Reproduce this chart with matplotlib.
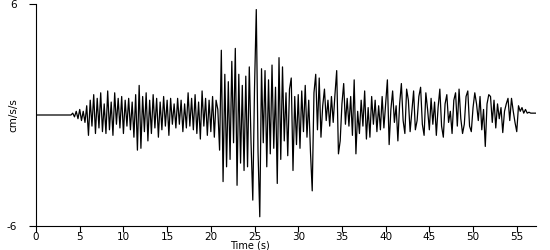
import numpy as np
import matplotlib
matplotlib.use("Agg")
import matplotlib.pyplot as plt

plt.rcParams['font.family'] = ['Liberation Sans Narrow', 'DejaVu Sans']
plt.rcParams['axes.unicode_minus'] = False

# sample interval of the record (s)
dt = 0.2

# acceleration (cm/s/s), one row = 2 s of record
accel = [
    0, 0, 0, 0, 0, 0, 0, 0, 0, 0,
    0, 0, 0, 0, 0, 0, 0, 0, 0, 0,
    0.0, 0.1, -0.1, 0.2, -0.2, 0.3, -0.3, 0.2, -0.4, 0.5,
    -1.1, 0.8, -0.6, 1.1, -1.0, 0.9, -0.7, 1.2, -0.9, 0.6,
    -1.0, 1.3, -0.8, 0.7, -1.1, 1.2, -0.5, 0.9, -0.7, 1.0,
    -1.0, 0.8, -0.6, 0.9, -0.8, 0.7, -1.2, 1.1, -1.9, 1.6,
    -1.8, 1.0, -0.9, 1.2, -1.4, 0.8, -1.0, 1.1, -0.7, 0.9,
    -1.2, 0.7, -0.8, 1.0, -0.6, 0.8, -1.1, 0.9, -0.5, 0.6,
    -0.7, 0.9, -0.5, 0.8, -0.9, 0.6, -0.7, 1.2, -0.6, 0.9,
    -0.8, 1.1, -1.0, 0.7, -1.3, 1.3, -0.6, 0.9, -1.1, 0.8,
    -0.9, 1.0, -1.2, 0.8, 0.3, -1.9, 3.5, -3.6, 2.2, -2.8,
    1.8, -2.4, 2.9, -1.5, 3.6, -3.8, 2.2, -2.6, 1.6, -3.0,
    2.1, -2.8, 2.6, -1.5, -4.6, 1.5, 5.7, -2.0, -5.5, 2.5,
    -1.5, 2.4, -2.8, 1.9, -2.1, 2.7, -1.8, 1.5, -3.7, 3.1,
    -2.4, 2.6, -1.4, 1.2, -2.2, 1.4, 2.0, -3.0, 1.0, -1.6,
    1.1, -1.8, 1.3, -0.9, 1.6, -1.2, 0.8, -2.0, -4.1, 1.2,
    2.2, -0.8, 2.0, -1.2, 0.5, 1.4, -0.3, 0.8, -0.6, 1.0,
    -0.4, 1.1, 2.4, -2.1, -1.4, 0.6, 1.7, -0.5, 0.9, -0.6,
    1.0, -1.1, 1.9, -2.1, 0.2, -1.0, 0.8, -0.6, 1.3, -1.3,
    0.4, -1.2, 1.0, -0.5, 0.8, -0.9, 0.5, -0.8, 1.0, -0.7,
    0.6, 1.9, -1.6, 0.3, 1.3, -0.4, 0.5, -1.4, 0.6, 1.7,
    -0.3, -1.0, 1.4, 0.8, -0.9, 0.2, 1.3, -0.8, -0.3, 1.0,
    1.5, -0.5, -1.1, 1.2, 0.3, -0.8, 0.9, -0.5, 0.7, -1.1,
    0.4, 1.4, -0.6, -1.2, 0.6, 1.1, -0.4, 0.2, -1.0, 0.8,
    1.2, -0.6, 1.4, -0.2, -1.0, -0.5, 1.0, 1.3, -0.6, -0.9,
    0.4, 1.2, 0.6, -0.3, 1.0, -0.8, 0.3, -1.7, 0.6, 1.1,
    1.0, -0.4, 0.8, -0.7, 0.6, -0.2, 0.4, -0.95, 0.2, 0.6,
    0.9, -0.3, 0.9, 0.2, -0.4, -0.9, 0.5, 0.2, 0.4, 0.1,
    0.3, 0.1, 0.15, 0.1, 0.1, 0.1, 0.1,
]
x_ticks = [0, 5, 10, 15, 20, 25, 30, 35, 40, 45, 50, 55]
y_ticks = [-6, 6]

t = np.arange(len(accel)) * dt

fig = plt.figure(figsize=(5.5, 2.5), dpi=100)
ax = fig.add_axes([0.0655, 0.096, 0.909, 0.888])
ax.plot(t, accel, color='black', lw=0.9)

ax.set_xlim(0, 57.2)
ax.set_ylim(-6, 6)
ax.set_xticks(x_ticks)
ax.set_yticks(y_ticks)
ax.spines['top'].set_visible(False)
ax.spines['right'].set_visible(False)
ax.tick_params(axis='x', length=4, width=0.8, pad=0, labelsize=7.5)
ax.tick_params(axis='y', length=5, width=0.8, pad=9, labelsize=7.5)

ax.set_xlabel('Time (s)', fontsize=7)
ax.xaxis.set_label_coords(0.428, -0.064)
ax.set_ylabel('cm/s/s', fontsize=7.5)
ax.yaxis.set_label_coords(-0.035, 0.5)

fig.savefig('out.png', dpi=100)
